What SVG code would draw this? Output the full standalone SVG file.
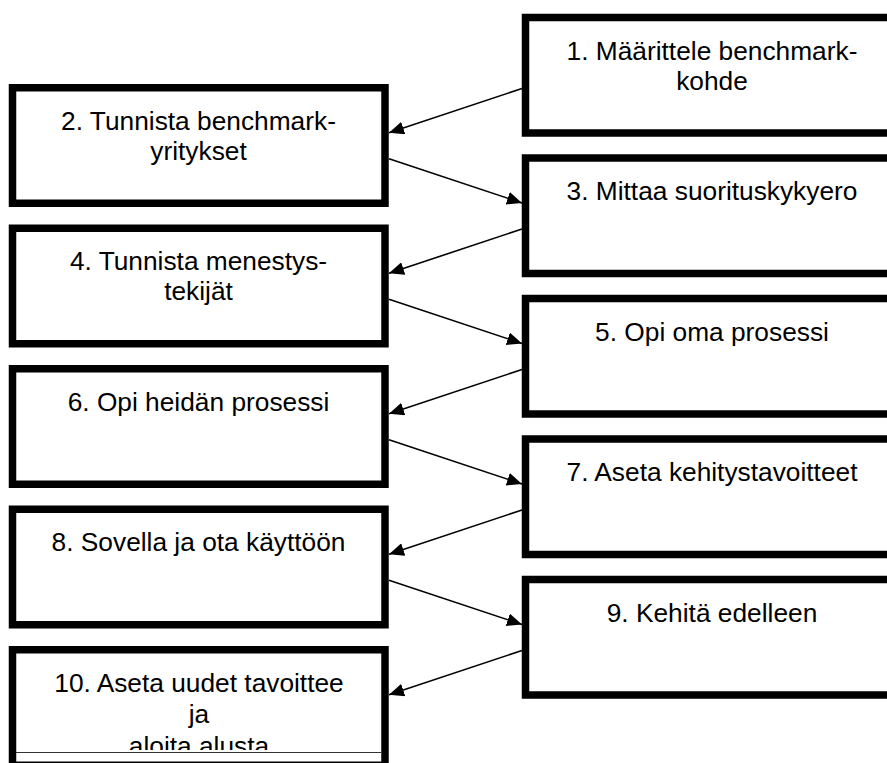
<svg xmlns="http://www.w3.org/2000/svg" width="887" height="763" viewBox="0 0 887 763">
  <style>
    .box { fill: #ffffff; stroke: #000000; stroke-width: 7.5; }
    .lbl { font-family: "Liberation Sans", Arial, sans-serif; font-size: 26.3px; fill: #000000; text-anchor: middle; }
    .conn { stroke: #000000; stroke-width: 1.6; fill: none; marker-end: url(#arr); }
  </style>
  <defs>
    <marker id="arr" markerUnits="userSpaceOnUse" markerWidth="16" markerHeight="13" refX="15" refY="6.5" orient="auto">
      <path d="M0,0 L15,6.5 L0,13 z" fill="#000000"/>
    </marker>
    <clipPath id="clip10">
      <rect x="0" y="640" width="400" height="110"/>
    </clipPath>
  </defs>
  <rect x="0" y="0" width="887" height="763" fill="#ffffff"/>

  <g id="node1">
    <rect class="box" x="525.5" y="17.5" width="375" height="115.5"/>
    <text class="lbl" y="59.5"><tspan x="712">1. Määrittele benchmark-</tspan><tspan x="712" dy="30">kohde</tspan></text>
  </g>
  <g id="node2">
    <rect class="box" x="12.5" y="87.75" width="372.5" height="115.5"/>
    <text class="lbl" y="129.75"><tspan x="198.5">2. Tunnista benchmark-</tspan><tspan x="198.5" dy="30">yritykset</tspan></text>
  </g>
  <g id="node3">
    <rect class="box" x="525.5" y="158" width="375" height="115.5"/>
    <text class="lbl" x="712" y="200">3. Mittaa suorituskykyero</text>
  </g>
  <g id="node4">
    <rect class="box" x="12.5" y="228.25" width="372.5" height="115.5"/>
    <text class="lbl" y="270.25"><tspan x="198.5">4. Tunnista menestys-</tspan><tspan x="198.5" dy="30">tekijät</tspan></text>
  </g>
  <g id="node5">
    <rect class="box" x="525.5" y="298.5" width="375" height="115.5"/>
    <text class="lbl" x="712" y="340.5">5. Opi oma prosessi</text>
  </g>
  <g id="node6">
    <rect class="box" x="12.5" y="368.75" width="372.5" height="115.5"/>
    <text class="lbl" x="198.5" y="410.75">6. Opi heidän prosessi</text>
  </g>
  <g id="node7">
    <rect class="box" x="525.5" y="439" width="375" height="115.5"/>
    <text class="lbl" x="712" y="481">7. Aseta kehitystavoitteet</text>
  </g>
  <g id="node8">
    <rect class="box" x="12.5" y="509.25" width="372.5" height="115.5"/>
    <text class="lbl" x="198.5" y="551.25">8. Sovella ja ota käyttöön</text>
  </g>
  <g id="node9">
    <rect class="box" x="525.5" y="579.5" width="375" height="115.5"/>
    <text class="lbl" x="712" y="621.5">9. Kehitä edelleen</text>
  </g>
  <g id="node10">
    <rect class="box" x="12.5" y="649.75" width="372.5" height="115.5"/>
    <text class="lbl" y="691.75" clip-path="url(#clip10)"><tspan x="199">10. Aseta uudet tavoittee</tspan><tspan x="199" dy="31.5">ja</tspan><tspan x="199" dy="31.5">aloita alusta</tspan></text>
    <line x1="16" y1="752.5" x2="381" y2="752.5" stroke="#333333" stroke-width="1"/>
  </g>

  <g id="connectors">
    <line class="conn" x1="522" y1="88.5" x2="389" y2="132.75"/>
    <line class="conn" x1="389" y1="158.75" x2="522" y2="203"/>
    <line class="conn" x1="522" y1="229" x2="389" y2="273.25"/>
    <line class="conn" x1="389" y1="299.25" x2="522" y2="343.5"/>
    <line class="conn" x1="522" y1="369.5" x2="389" y2="413.75"/>
    <line class="conn" x1="389" y1="439.75" x2="522" y2="484"/>
    <line class="conn" x1="522" y1="510" x2="389" y2="554.25"/>
    <line class="conn" x1="389" y1="580.25" x2="522" y2="624.5"/>
    <line class="conn" x1="522" y1="650.5" x2="389" y2="694.75"/>
  </g>
</svg>
